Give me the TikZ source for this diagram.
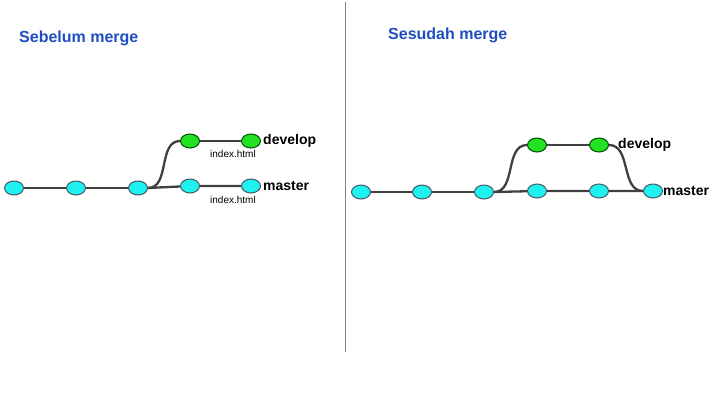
\documentclass[tikz,border=0pt]{standalone}
\usepackage{fontspec}
\setmainfont{Liberation Sans}
\usetikzlibrary{positioning,shapes.geometric}
\definecolor{commitcyan}{HTML}{1FF0F0}
\definecolor{commitgreen}{HTML}{22E022}
\definecolor{titleblue}{HTML}{1F4FBF}
\definecolor{edgegray}{HTML}{404040}
\tikzset{
	commit/.style={ellipse,draw=black!70!cyan,line width=1pt,fill=commitcyan,minimum width=19pt,minimum height=14pt,inner sep=0pt},
	devcommit/.style={commit,fill=commitgreen,draw=black!70!green},
	branch/.style={line width=2.3pt,draw=edgegray},
	reflabel/.style={font=\bfseries\fontsize{14}{16}\selectfont,inner sep=1pt},
	filelabel/.style={font=\fontsize{10}{11}\selectfont,inner sep=0pt},
	heading/.style={font=\bfseries\fontsize{16}{18}\selectfont,text=titleblue,anchor=west,inner sep=0pt}
}
\begin{document}
\begin{tikzpicture}[x=1pt,y=-1pt]
		\useasboundingbox[fill=white] (0,0) rectangle (720,405);
		% divider
		\coordinate (top) at (345,2);
		\coordinate (bottom) at (345,352);
		\draw[gray,line width=0.8pt] (top) -- (bottom);
		%
		\node[heading] (before) at (19,38) {Sebelum merge};
		\node[heading] (after) at (388,35) {Sesudah merge};
		%
		% sebelum merge
		\node[commit] (a1) at (14,188) {};
		\node[commit] (a2) at (76,188) {};
		\node[commit] (a3) at (138,188) {};
		\node[commit] (a4) at (190,186) {};
		\node[commit] (a5) at (251,186) {};
		\node[devcommit] (b1) at (190,141) {};
		\node[devcommit] (b2) at (251,141) {};
		\draw[branch] (a1) -- (a2) -- (a3);
		\draw[branch] (a3.east) -- (a4) -- (a5);
		\draw[branch] (a3.east) to[out=0,in=180] (b1.west);
		\draw[branch] (b1) -- (b2);
		\node[reflabel,right=1pt of b2] (devA) {develop};
		\node[reflabel,right=1pt of a5] (masterA) {master};
		\node[filelabel] (fileB) at (233,154) {index.html};
		\node[filelabel] (fileA) at (233,200) {index.html};
		%
		% sesudah merge
		\node[commit] (c1) at (361,192) {};
		\node[commit] (c2) at (422,192) {};
		\node[commit] (c3) at (484,192) {};
		\node[commit] (c4) at (537,191) {};
		\node[commit] (c5) at (599,191) {};
		\node[commit] (c6) at (653,191) {};
		\node[devcommit] (d1) at (537,145) {};
		\node[devcommit] (d2) at (599,145) {};
		\draw[branch] (c1) -- (c2) -- (c3);
		\draw[branch] (c3.east) -- (c4) -- (c5) -- (c6);
		\draw[branch] (c3.east) to[out=0,in=180] (d1.west);
		\draw[branch] (d1) -- (d2);
		\draw[branch] (d2.east) to[out=0,in=180] (c6.west);
		\node[reflabel,right=8pt of d2] (devB) {develop};
		\node[reflabel,right=-1pt of c6] (masterB) {master};
	\end{tikzpicture}
\end{document}
